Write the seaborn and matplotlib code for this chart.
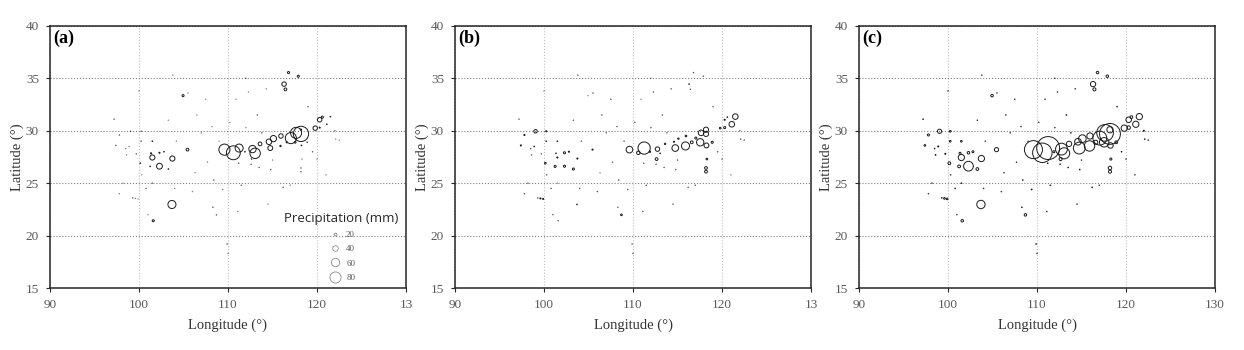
import numpy as np
import pandas as pd
import matplotlib
matplotlib.use('Agg')
import matplotlib.pyplot as plt
from matplotlib.lines import Line2D
import seaborn as sns

# Station positions (degrees)
lon = [109.6, 110.6, 111.25, 111.9, 112.75, 113.05, 112.65, 113.6, 114.6, 114.75,
       115.1, 115.9, 115.95, 116.6, 117.06, 117.55, 117.65, 118.2, 118.2, 118.25,
       118.2, 118.2, 118.3, 118.9, 119.8, 120.3, 120.3, 120.6, 121.1, 121.5,
       116.3, 116.45, 116.8, 117.9, 122.0, 122.1,
       99.05, 100.25, 97.8, 97.4, 100.25, 101.5, 98.9, 98.6, 99.7, 101.5,
       101.35, 102.3, 102.8, 105.45, 103.75, 100.15, 101.25, 102.3, 103.3, 103.7,
       99.6, 99.9, 101.6, 108.7, 104.95, 109.4,
       97.2, 97.8, 98.5, 99.3, 100.8, 101.0, 101.5, 100.3, 103.3, 106.5,
       107.5, 108.3, 110.0, 109.9, 111.1, 111.5, 112.3, 112.0, 113.5, 114.5,
       114.8, 114.3, 115.0, 116.2, 112.6, 106.0, 106.3, 107.7, 108.4, 111.2,
       104.2, 104.0, 100.0, 103.8, 105.5, 113.3, 110.2, 110.9, 119.0, 119.5,
       120.0, 121.0, 122.5, 117.0, 113.8, 112.0, 109.0, 107.0, 108.2, 98.2]
lat = [28.2, 27.9, 28.35, 28.0, 28.25, 27.85, 27.3, 28.75, 28.95, 28.35,
       29.25, 28.55, 29.5, 28.9, 29.3, 28.9, 29.8, 29.7, 30.1, 28.6,
       26.45, 26.1, 27.3, 28.9, 30.25, 30.3, 31.05, 31.3, 30.62, 31.35,
       34.45, 33.95, 35.55, 35.2, 30.0, 29.2,
       29.95, 29.95, 29.6, 28.6, 29.0, 29.0, 28.5, 27.7, 27.8, 27.45,
       27.85, 27.9, 28.0, 28.2, 27.35, 26.9, 26.6, 26.62, 26.35, 22.97,
       23.55, 23.5, 21.42, 21.98, 33.35, 24.4,
       31.1, 24.0, 28.3, 23.6, 24.5, 22.0, 25.0, 25.8, 31.0, 31.5,
       33.0, 22.7, 18.3, 19.2, 22.3, 24.8, 33.7, 35.0, 26.5, 23.0,
       26.3, 34.0, 27.2, 24.6, 26.8, 24.2, 26.0, 27.0, 25.3, 26.9,
       29.0, 24.5, 33.8, 35.3, 33.6, 31.5, 30.8, 33.0, 32.3, 28.0,
       27.3, 25.8, 29.1, 24.8, 29.8, 30.3, 29.0, 29.8, 30.4, 25.0]

# Precipitation (mm) in each panel
precip_a = [80, 100, 58, 5, 53, 75, 4, 27, 40, 35,
            45, 10, 32, 8, 80, 12, 80, 110, 10, 5,
            3, 3, 2, 4, 32, 8, 32, 15, 5, 5,
            32, 20, 15, 15, 3, 2,
            3, 3, 3, 3, 3, 5, 2, 2, 3, 37,
            8, 8, 5, 20, 37, 5, 5, 42, 5, 58,
            2, 2, 15, 3, 15, 2,
            3, 2, 2, 3, 3, 2, 3, 2, 2, 2,
            2, 3, 2, 3, 2, 3, 2, 3, 3, 2,
            3, 2, 2, 3, 3, 2, 2, 2, 3, 3,
            2, 2, 2, 2, 2, 3, 2, 2, 3, 3,
            2, 2, 2, 2, 3, 2, 2, 2, 2, 2]
precip_b = [48, 25, 88, 10, 32, 5, 20, 10, 8, 48,
            10, 58, 12, 20, 15, 53, 40, 37, 37, 35,
            20, 20, 12, 15, 12, 15, 8, 5, 40, 40,
            5, 3, 3, 3, 3, 3,
            25, 8, 8, 8, 5, 5, 5, 3, 3, 8,
            5, 15, 8, 8, 8, 12, 15, 15, 15, 5,
            8, 8, 3, 12, 2, 3,
            3, 3, 3, 3, 3, 3, 2, 3, 3, 3,
            3, 3, 3, 3, 3, 3, 3, 2, 3, 3,
            3, 3, 3, 3, 3, 3, 2, 3, 3, 3,
            3, 3, 2, 3, 3, 3, 3, 2, 3, 3,
            3, 2, 3, 3, 3, 3, 3, 3, 3, 3]
precip_c = [130, 140, 165, 15, 85, 80, 22, 38, 48, 85,
            55, 75, 45, 30, 100, 68, 120, 150, 45, 40,
            25, 22, 15, 20, 45, 25, 40, 20, 45, 45,
            38, 22, 18, 18, 8, 5,
            30, 12, 15, 12, 12, 12, 8, 6, 8, 45,
            15, 18, 14, 30, 45, 20, 20, 70, 20, 60,
            12, 12, 18, 18, 18, 6,
            5, 4, 5, 5, 5, 4, 5, 4, 4, 4,
            4, 5, 4, 5, 4, 5, 4, 4, 5, 4,
            5, 4, 4, 5, 5, 4, 4, 4, 5, 5,
            4, 4, 4, 4, 4, 5, 4, 4, 5, 5,
            4, 4, 4, 4, 5, 4, 4, 4, 4, 4]

panel_labels = ['(a)', '(b)', '(c)']
xtick_vals = [90, 100, 110, 120, 130]
ytick_vals = [15, 20, 25, 30, 35, 40]
legend_vals = [20, 40, 60, 80]

sns.set_theme(style='ticks')
plt.rcParams['font.family'] = ['Liberation Serif', 'DejaVu Serif']

SCALE = 0.1  # marker diameter (pt) per mm


def marker_area(v):
    # circle diameter grows linearly with precipitation
    return (SCALE * v) ** 2


fig = plt.figure(figsize=(12.44, 3.5), dpi=100)
lefts = [50 / 1244, 455 / 1244, 859 / 1244]
width = 356 / 1244

for i, vals in enumerate([precip_a, precip_b, precip_c]):
    ax = fig.add_axes([lefts[i], 0.177, width, 0.749])
    df = pd.DataFrame({'lon': lon, 'lat': lat, 'precip': vals})
    sizes = {v: marker_area(v) for v in sorted(set(vals))}
    sns.scatterplot(data=df, x='lon', y='lat', size='precip', sizes=sizes,
                    facecolor='none', edgecolor='0.1', linewidth=0.7,
                    legend=False, ax=ax, zorder=3)
    ax.set_xlim(90, 130)
    ax.set_ylim(15, 40)
    ax.set_xticks(xtick_vals)
    ax.set_yticks(ytick_vals)
    if i < 2:
        ax.set_xticklabels(['90', '100', '110', '120', '13'])
    ax.tick_params(labelsize=9.5, labelcolor='0.35', length=3, width=0.8,
                   direction='out', pad=5)
    ax.xaxis.grid(True, linestyle=':', color='0.75', linewidth=0.8)
    ax.yaxis.grid(True, linestyle=':', color='0.5', linewidth=0.8)
    for sp in ax.spines.values():
        sp.set_color('0.15')
        sp.set_linewidth(1.1)
    ax.set_xlabel('Longitude (°)', fontsize=10.5, color='0.2', labelpad=5)
    ax.set_ylabel('Latitude (°)', fontsize=10.5, color='0.2', labelpad=1)
    ax.text(0.01, 0.985, panel_labels[i], transform=ax.transAxes,
            fontsize=13, va='top', ha='left', color='black',
            fontweight='bold')

    if i == 0:
        handles = [Line2D([], [], marker='o', linestyle='none',
                          markerfacecolor='none', markeredgecolor='0.55',
                          markeredgewidth=0.6, markersize=SCALE * v)
                   for v in legend_vals]
        leg = ax.legend(handles, [str(v) for v in legend_vals],
                        title='Precipitation (mm)', loc='lower right',
                        bbox_to_anchor=(0.995, 0.0), frameon=False,
                        fontsize=6.5, labelspacing=0.65, handletextpad=0.2,
                        borderaxespad=0.3)
        leg.get_title().set_fontfamily('Open Sans')
        leg.get_title().set_fontsize(9.5)
        leg.get_title().set_color('0.15')
        for t in leg.get_texts():
            t.set_color('0.35')

fig.savefig('out.png', dpi=100, facecolor='white')
